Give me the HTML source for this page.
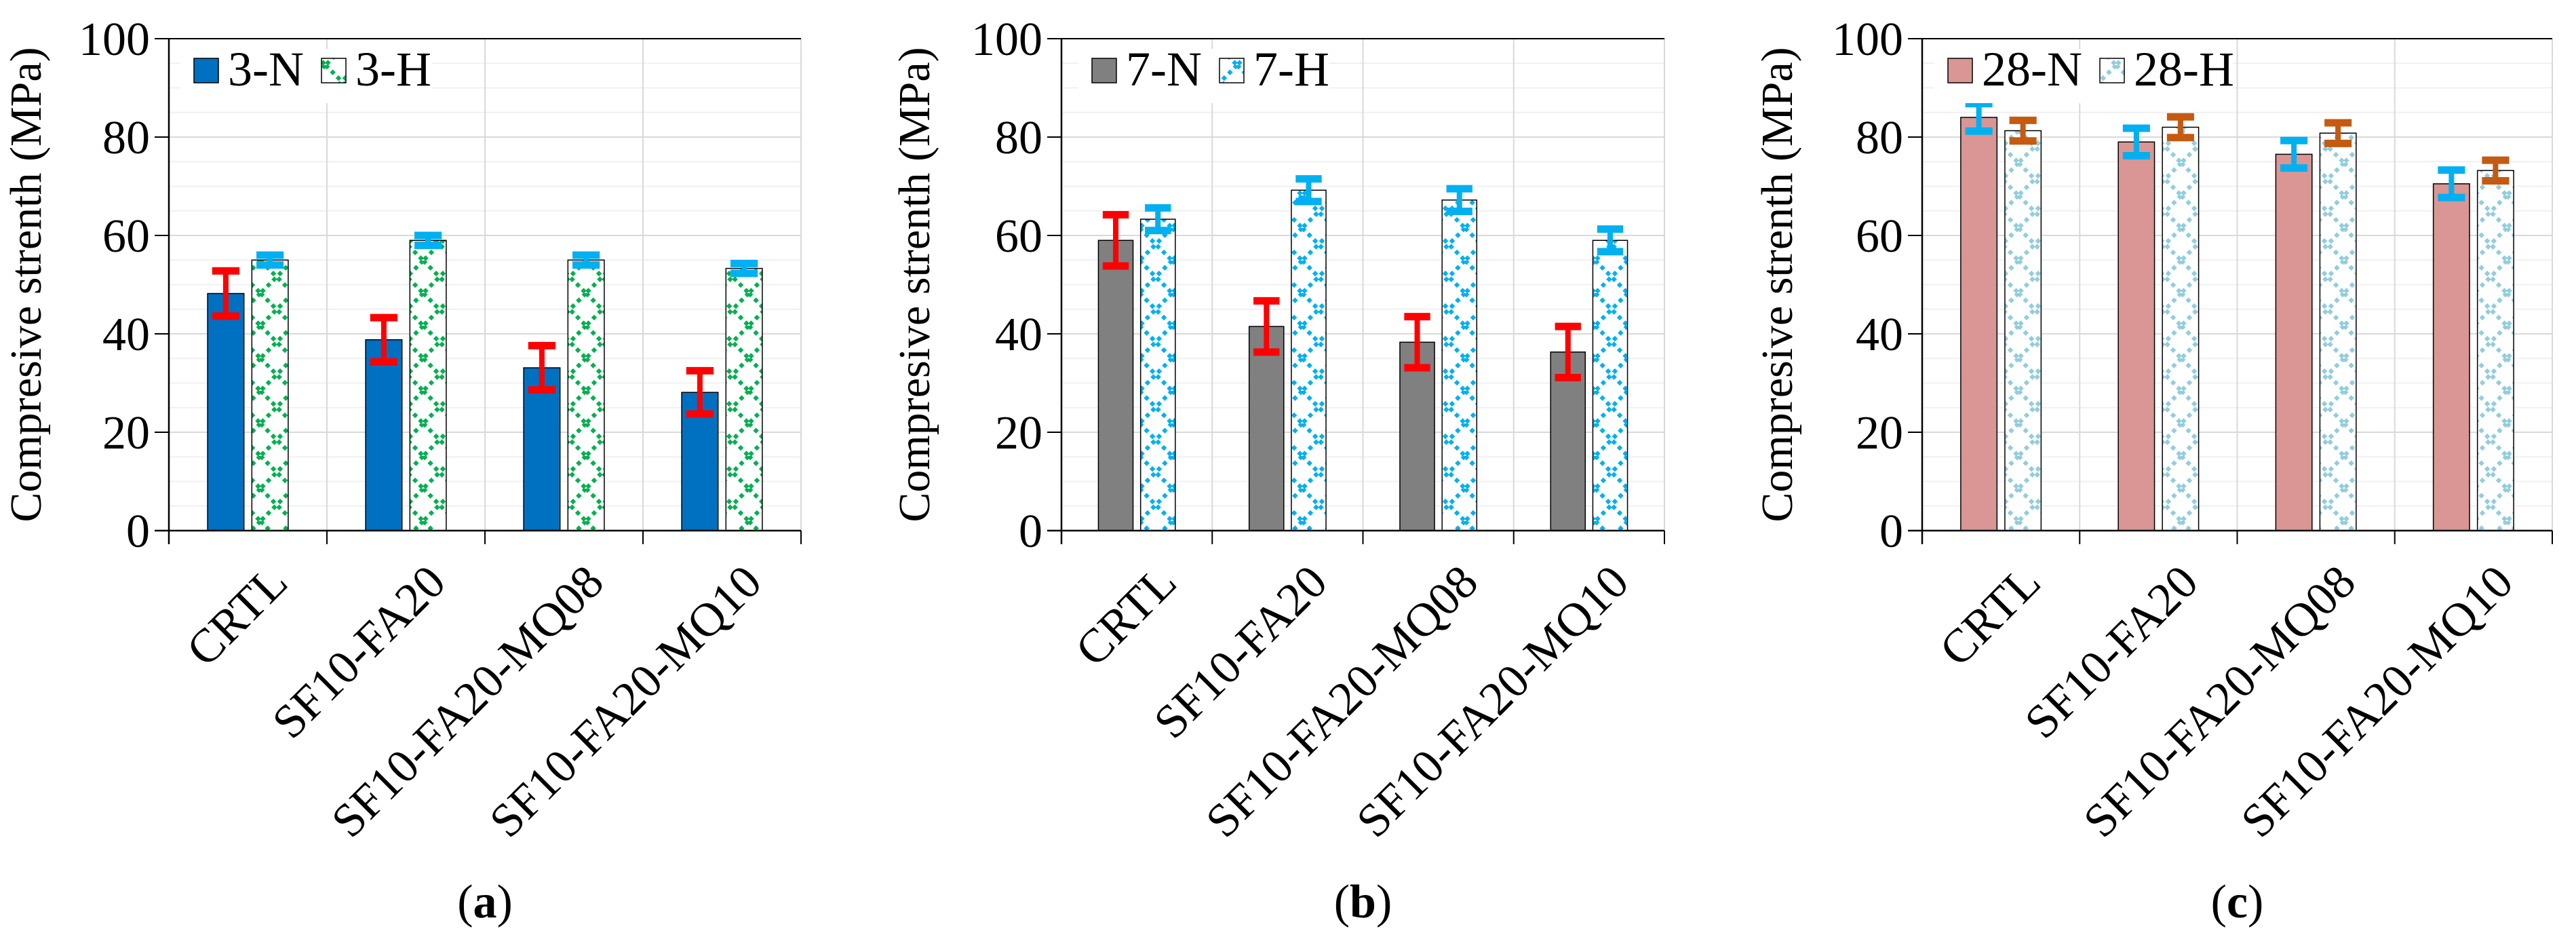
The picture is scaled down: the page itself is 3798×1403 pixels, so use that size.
<!DOCTYPE html>
<html><head><meta charset="utf-8"><style>
html,body{margin:0;padding:0;background:#fff}
svg, svg text{font-family:"Liberation Serif","Times New Roman","DejaVu Serif","Noto Serif CJK SC",serif}
</style></head><body>
<svg id="chart" width="3798" height="1398" viewBox="0 0 3798 1398" xmlns="http://www.w3.org/2000/svg">
<defs>
<pattern id="patGreen" patternUnits="userSpaceOnUse" width="48" height="48">
<path d="M0 0L48 48M48 0L0 48" stroke="#00b050" stroke-width="6" stroke-dasharray="6 6"/>
</pattern>
<pattern id="patBlue" patternUnits="userSpaceOnUse" width="48" height="48">
<path d="M0 0L48 48M48 0L0 48" stroke="#00b0f0" stroke-width="6" stroke-dasharray="6 6"/>
</pattern>
<pattern id="patLight" patternUnits="userSpaceOnUse" width="48" height="48">
<path d="M0 0L48 48M48 0L0 48" stroke="#92cddc" stroke-width="6" stroke-dasharray="6 6"/>
</pattern>
</defs>
</svg>
<script>
const categories = ["CRTL","SF10-FA20","SF10-FA20-MQ08","SF10-FA20-MQ10"];
const yTicks = [0,20,40,60,80,100];
const a_N = [48.2,38.8,33.1,28.1];
const a_Nerr = [4.6,4.5,4.5,4.4];
const a_H = [55.0,59.0,55.0,53.3];
const a_Herr = [1.0,1.0,1.0,1.0];
const b_N = [59.0,41.5,38.3,36.3];
const b_Nerr = [5.2,5.2,5.2,5.2];
const b_H = [63.3,69.2,67.2,59.0];
const b_Herr = [2.3,2.3,2.3,2.3];
const c_N = [84.0,79.0,76.5,70.5];
const c_Nerr = [2.8,2.8,2.8,2.8];
const c_H = [81.3,82.0,80.8,73.2];
const c_Herr = [2.1,2.1,2.1,2.1];
const legendLabels = [["3-N","3-H"],["7-N","7-H"],["28-N","28-H"]];
const panelLetters = ["a","b","c"];

const NS="http://www.w3.org/2000/svg";
const svg=document.getElementById('chart');
function mk(tag,attrs,parent){const e=document.createElementNS(NS,tag);for(const k in attrs)e.setAttribute(k,attrs[k]);if(tag==='text'){e.setAttribute('fill','#000');}(parent||svg).appendChild(e);return e;}

const panels=[
 {x0:249,x1:1181,N:a_N,Ne:a_Nerr,H:a_H,He:a_Herr,nFill:"#0070c0",hFill:"url(#patGreen)",nErr:"#ff0000",hErr:"#00b0f0",titleX:60,lx:286},
 {x0:1565,x1:2454,N:b_N,Ne:b_Nerr,H:b_H,He:b_Herr,nFill:"#808080",hFill:"url(#patBlue)",nErr:"#ff0000",hErr:"#00b0f0",titleX:1370,lx:1610},
 {x0:2834,x1:3763,N:c_N,Ne:c_Nerr,H:c_H,He:c_Herr,nFill:"#d99694",hFill:"url(#patLight)",nErr:"#00b0f0",hErr:"#c55a11",titleX:2642,lx:2872}
];
const yTop=57,yBot=782;
function yS(v){return yBot-(v/100)*(yBot-yTop);}

panels.forEach((p,pi)=>{
 const g=mk('g',{});
 
 
 const cw=(p.x1-p.x0)/categories.length;
 const bw=cw*0.23, off=cw*0.245;
 for(let v=5;v<100;v+=5){
  if(v%20===0)continue;
  const l=mk('line',{x1:p.x0,x2:p.x1,y1:yS(v),y2:yS(v),stroke:"#f0f0f0","stroke-width":2},g);
  
  
 }
 yTicks.forEach(t=>{
  if(t>0&&t<100){
   const l=mk('line',{x1:p.x0,x2:p.x1,y1:yS(t),y2:yS(t),stroke:"#d9d9d9",'stroke-width':2},g);
   
   
  }
  const tk=mk('line',{x1:p.x0-21,x2:p.x0,y1:yS(t),y2:yS(t),stroke:"#000",'stroke-width':2},g);
  
  
  const tx=mk('text',{x:p.x0-28,y:yS(t)+24,'font-size':70,'text-anchor':'end'},g);
  tx.textContent=t;
  
  
 });
 for(let i=0;i<=categories.length;i++){
  const x=p.x0+i*cw;
  if(i>0){
   const vg=mk('line',{x1:x,x2:x,y1:yTop,y2:yBot,stroke:"#d9d9d9",'stroke-width':2},g);
   
   
  }
  const t=mk('line',{x1:x,x2:x,y1:yBot,y2:yBot+20,stroke:"#000",'stroke-width':2},g);
  
  
 }
 const top=mk('line',{x1:p.x0-21,x2:p.x1,y1:yTop,y2:yTop,stroke:"#000",'stroke-width':2},g);
 
 
 categories.forEach((c,i)=>{
  const cx=p.x0+i*cw+cw/2;
  const xn=p.x0+i*cw+off, xh=p.x0+i*cw+cw-off-bw;
  const rn=mk('rect',{x:xn,y:yS(p.N[i]),width:bw,height:yBot-yS(p.N[i]),fill:p.nFill,stroke:"#000",'stroke-width':1.5},g);
  
  
  mk('rect',{x:xh,y:yS(p.H[i]),width:bw,height:yBot-yS(p.H[i]),fill:"#fff"},g);
  const rh=mk('rect',{x:xh,y:yS(p.H[i]),width:bw,height:yBot-yS(p.H[i]),fill:p.hFill,stroke:"#000",'stroke-width':1.5},g);
  
  
  [[xn,p.N[i],p.Ne[i],p.nErr,'n'],[xh,p.H[i],p.He[i],p.hErr,'h']].forEach(([bx,v,e,col,s])=>{
   const mx=bx+bw/2, cwid=bw*0.75;
   const eg=mk('g',{},g);
   
   
   mk('line',{x1:mx,x2:mx,y1:yS(v+e),y2:yS(v-e),stroke:col,'stroke-width':8},eg);
   mk('line',{x1:mx-cwid/2,x2:mx+cwid/2,y1:yS(v+e),y2:yS(v+e),stroke:col,'stroke-width':11},eg);
   mk('line',{x1:mx-cwid/2,x2:mx+cwid/2,y1:yS(v-e),y2:yS(v-e),stroke:col,'stroke-width':11},eg);
  });
  const lx=cx+62, ly=862;
  const tl=mk('text',{x:lx,y:ly,'font-size':70,'text-anchor':'end',transform:`rotate(-45 ${lx} ${ly})`},g);
  tl.textContent=c;
  
  
 });
 const ax=mk('line',{x1:p.x0,x2:p.x0,y1:yTop,y2:yBot+20,stroke:"#000",'stroke-width':2.5},g);
 
 
 const bx=mk('line',{x1:p.x0-21,x2:p.x1,y1:yBot,y2:yBot,stroke:"#000",'stroke-width':2.5},g);
 
 
 const lg=mk('g',{},g);
 
 
 mk('rect',{x:p.lx-20,y:72,width:p.lx===2872?440:370,height:80,fill:"#fff"},lg);
 mk('rect',{x:p.lx,y:86,width:36,height:36,fill:p.nFill,stroke:"#000",'stroke-width':1.5},lg);
 const t1=mk('text',{x:p.lx+50,y:126,'font-size':72},lg);
 t1.textContent=legendLabels[pi][0];
 
 
 const w1=legendLabels[pi][0].length*36+80;
 mk('rect',{x:p.lx+w1,y:86,width:36,height:36,fill:p.hFill,stroke:"#000",'stroke-width':1.5},lg);
 const t2=mk('text',{x:p.lx+w1+50,y:126,'font-size':72},lg);
 t2.textContent=legendLabels[pi][1];
 
 
 const ty=(yTop+yBot)/2;
 const tt=mk('text',{x:p.titleX,y:ty,'font-size':66,'text-anchor':'middle',transform:`rotate(-90 ${p.titleX} ${ty})`},g);
 tt.textContent="Compresive strenth (MPa)";
 
 
 const pl=mk('text',{x:(p.x0+p.x1)/2,y:1352,'font-size':70,'text-anchor':'middle'},g);
 pl.innerHTML='(<tspan font-weight="bold">'+panelLetters[pi]+'</tspan>)';
 
 
});
</script>
</body></html>
